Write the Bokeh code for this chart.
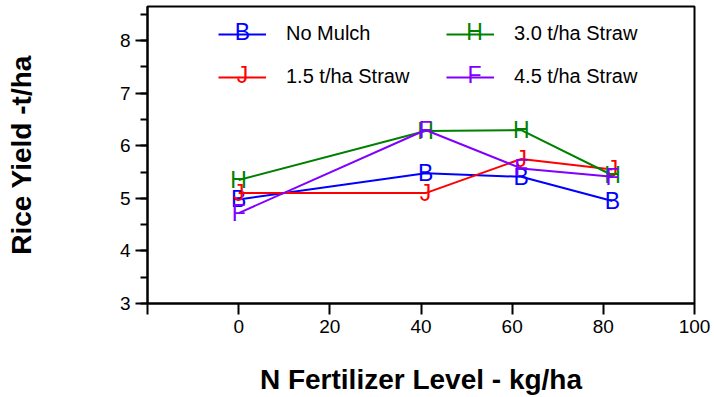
from bokeh.plotting import figure
from bokeh.models import (Range1d, SingleIntervalTicker, Legend, LegendItem, Label)
from bokeh.core.properties import value
from bokeh.embed import file_html
from bokeh.resources import INLINE

# ---- data ----
n_level = [0, 41, 62, 82]
no_mulch = [4.98, 5.48, 5.41, 4.95]
straw_15 = [5.10, 5.10, 5.75, 5.55]
straw_30 = [5.35, 6.28, 6.30, 5.44]
straw_45 = [4.72, 6.30, 5.57, 5.41]

series_names = ["No Mulch", "1.5 t/ha Straw", "3.0 t/ha Straw", "4.5 t/ha Straw"]
series_vals = [no_mulch, straw_15, straw_30, straw_45]
series_letters = ["B", "J", "H", "F"]
series_colors = ["#0000FF", "#FF0000", "#008000", "#8000FF"]

x_ticks = [-20, 0, 20, 40, 60, 80, 100]

FONT = "Liberation Sans"

p = figure(width=714, height=397, output_backend="svg", toolbar_location=None,
           x_range=Range1d(-20, 100), y_range=Range1d(3, 8.65),
           min_border_left=147, min_border_right=20, min_border_top=6,
           min_border_bottom=93)
p.background_fill_color = None
p.border_fill_color = "white"
p.outline_line_color = "black"
p.outline_line_width = 2
p.grid.visible = False

# axes
p.xaxis.ticker = x_ticks
p.xaxis.major_label_overrides = {-20: ""}
p.xaxis.minor_tick_line_color = None
p.xaxis.major_tick_out = 11
p.xaxis.major_tick_in = 0
p.xaxis.axis_label = "N Fertilizer Level - kg/ha"
p.xaxis.axis_label_standoff = 28

p.yaxis.ticker = SingleIntervalTicker(interval=1, num_minor_ticks=2)
p.yaxis.major_tick_out = 12
p.yaxis.major_tick_in = 0
p.yaxis.minor_tick_out = 7
p.yaxis.minor_tick_in = 0
p.yaxis.axis_label = "Rice Yield -t/ha"
p.yaxis.axis_label_standoff = 80

for ax in (p.xaxis, p.yaxis):
    ax.axis_line_width = 2
    ax.axis_line_color = "black"
    ax.major_tick_line_width = 2
    ax.minor_tick_line_width = 2
    ax.major_label_text_font = FONT
    ax.major_label_text_font_size = "19px"
    ax.major_label_text_color = "black"
    ax.major_label_standoff = 5
    ax.axis_label_text_font = FONT
    ax.axis_label_text_font_size = "28px"
    ax.axis_label_text_font_style = "bold"
    ax.axis_label_text_color = "black"

items = []
for name, vals, letter, col in zip(series_names, series_vals, series_letters, series_colors):
    r_line = p.line(n_level, vals, line_color=col, line_width=2)
    r_txt = p.text(n_level, vals, text=[letter] * len(vals), text_color=col,
                   text_font=value(FONT), text_font_size="23px",
                   text_align="center", text_baseline="middle")
    items.append(LegendItem(label=name, renderers=[r_line, r_txt]))

leg = Legend(items=items, ncols=2, location=(71, 215),
             glyph_width=48, glyph_height=20, label_standoff=20,
             label_width=140, label_height=20, spacing=20, padding=0, margin=0,
             label_text_font=FONT, label_text_font_size="20px",
             label_text_color="black",
             border_line_color=None, background_fill_alpha=0)
p.add_layout(leg, "center")

# letter symbols drawn over the legend's line samples (frame-relative screen px)
legend_sym_x = [95, 95, 327, 327]
legend_sym_y = [272, 229, 272, 229]
for letter, col, sx, sy in zip(series_letters, series_colors, legend_sym_x, legend_sym_y):
    p.add_layout(Label(x=sx, y=sy, x_units="screen", y_units="screen", text=letter,
                       text_color=col, text_font=FONT, text_font_size="23px",
                       text_align="center", text_baseline="middle"))

open("out.html", "w").write(file_html(p, INLINE))
